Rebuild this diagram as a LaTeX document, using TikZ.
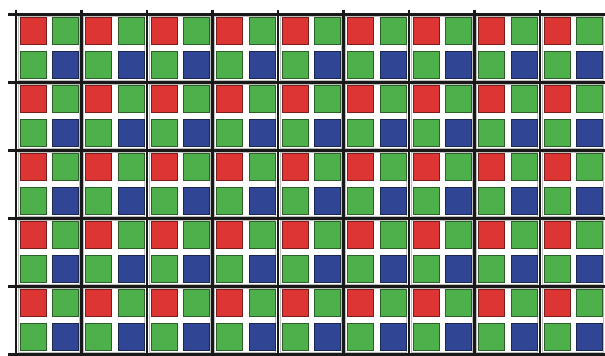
\documentclass[tikz,border=0pt]{standalone}
\usepackage{xcolor}
\usepackage{tikz}
\definecolor{pixR}{RGB}{221,52,52}
\definecolor{pixG}{RGB}{78,176,74}
\definecolor{pixB}{RGB}{48,70,148}
\tikzset{
  pix/.style={line width=0.9pt,draw=#1!55!black,fill=#1},
  cellrim/.style={draw=black!25,line width=0.7pt},
  gridline/.style={line width=2.6pt,black!90}
}

\begin{document}
\begin{tikzpicture}[x=1pt,y=-1pt]
  \useasboundingbox (0,0) rectangle (605,356);
  % 셀 (2x2 Bayer)
  \foreach \i in {0,...,8}
    \foreach \j in {0,...,4} {
      \pgfmathsetmacro{\cx}{16+65.5*\i}
      \pgfmathsetmacro{\cy}{14.5+68*\j}
      \draw[cellrim] (\cx+2.2,\cy+2) rectangle (\cx+63.3,\cy+66);
      \filldraw[pix=pixR] (\cx+4,\cy+3.2) rectangle ++(26,27);
      \filldraw[pix=pixG] (\cx+36.7,\cy+3.2) rectangle ++(26,27);
      \filldraw[pix=pixG] (\cx+4,\cy+37.2) rectangle ++(26,27);
      \filldraw[pix=pixB] (\cx+36.7,\cy+37.2) rectangle ++(26,27);
    }
  % 격자선
  \foreach \i in {0,...,8} \draw[gridline] (16+65.5*\i,9.5) -- (16+65.5*\i,356);
  \foreach \j in {0,...,5} \draw[gridline] (8,14.5+68*\j) -- (605,14.5+68*\j);
\end{tikzpicture}
\end{document}
